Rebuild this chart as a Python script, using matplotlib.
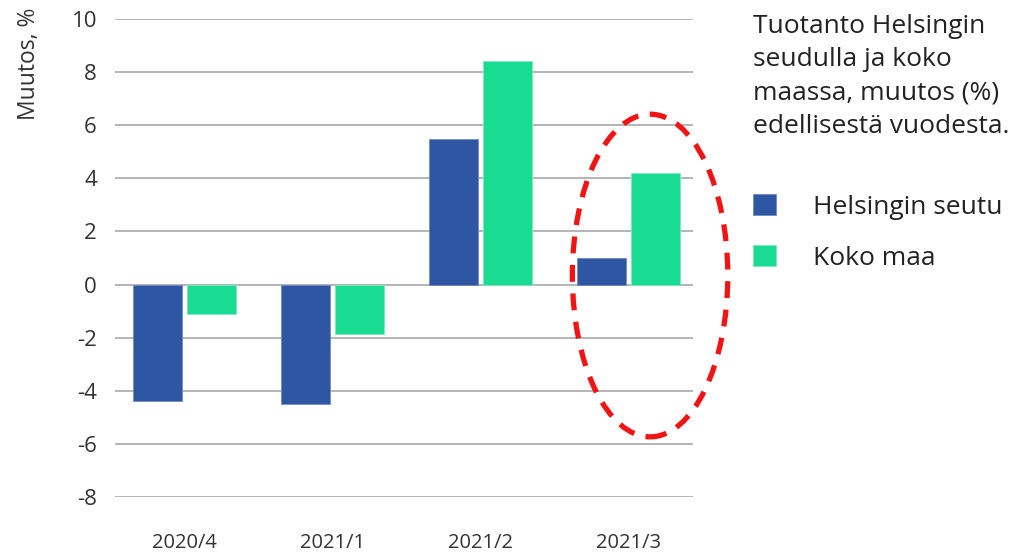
import matplotlib.pyplot as plt
import numpy as np
from matplotlib.patches import Ellipse

plt.rcParams['font.family'] = ['Open Sans', 'DejaVu Sans']

quarters = ['2020/4', '2021/1', '2021/2', '2021/3']
helsinki = [-4.4, -4.5, 5.5, 1.0]
koko_maa = [-1.1, -1.85, 8.4, 4.2]
series_names = ['Helsingin seutu', 'Koko maa']
yticks = [-8, -6, -4, -2, 0, 2, 4, 6, 8, 10]

blue = '#2e56a3'
green = '#1adb92'

fig = plt.figure(figsize=(10.28, 5.55), dpi=100)
ax = fig.add_axes([115/1028, 58/555, (693-115)/1028, (497-19)/555])

x = np.arange(len(quarters))
w = 0.33
ax.bar(x - 0.183, helsinki, w, color=blue, edgecolor='#6f8cc4', linewidth=0.6,
       label=series_names[0], zorder=3)
ax.bar(x + 0.183, koko_maa, w, color=green, edgecolor='#7ee9c0', linewidth=0.6,
       label=series_names[1], zorder=3)

ax.set_xlim(-0.47, 3.435)
ax.set_ylim(-8, 10)
ax.set_yticks(yticks)
ax.set_yticklabels([str(v) for v in yticks])
ax.set_xticks(x)
ax.set_xticklabels(quarters)
ax.grid(axis='y', color='#a0a0a0', linewidth=1.1, zorder=0)
ax.set_axisbelow(True)
for s in ax.spines.values():
    s.set_visible(False)
ax.tick_params(axis='y', length=0, pad=13, labelsize=16, labelcolor='#333333')
ax.tick_params(axis='x', length=0, pad=26, labelsize=14.5, labelcolor='#333333')

fig.text(29/1028, 1 - 8/555, 'Muutos, %', rotation=90, ha='center', va='top',
         fontsize=16.5, color='#333333')

fig.text(753/1028, 1 - 14/555,
         'Tuotanto Helsingin\nseudulla ja koko\nmaassa, muutos (%)\nedellisestä vuodesta.',
         ha='left', va='top', fontsize=19, linespacing=1.43, color='#222222')

leg = fig.legend(loc='upper left', bbox_to_anchor=(753/1028, 1 - 194/555),
                 frameon=False, fontsize=19, handlelength=0.87, handleheight=0.87,
                 handletextpad=1.4, labelspacing=0.95, borderpad=0, borderaxespad=0)
for t in leg.get_texts():
    t.set_color('#222222')

# red dashed ellipse highlighting the latest quarter
ell = Ellipse((3.145, 0.34), 1.05, 12.15, fill=False, edgecolor='#f01414',
              linewidth=3.8, linestyle=(0, (3.2, 2.2)), clip_on=False, zorder=5)
ax.add_patch(ell)

fig.savefig('out.png', dpi=100)
